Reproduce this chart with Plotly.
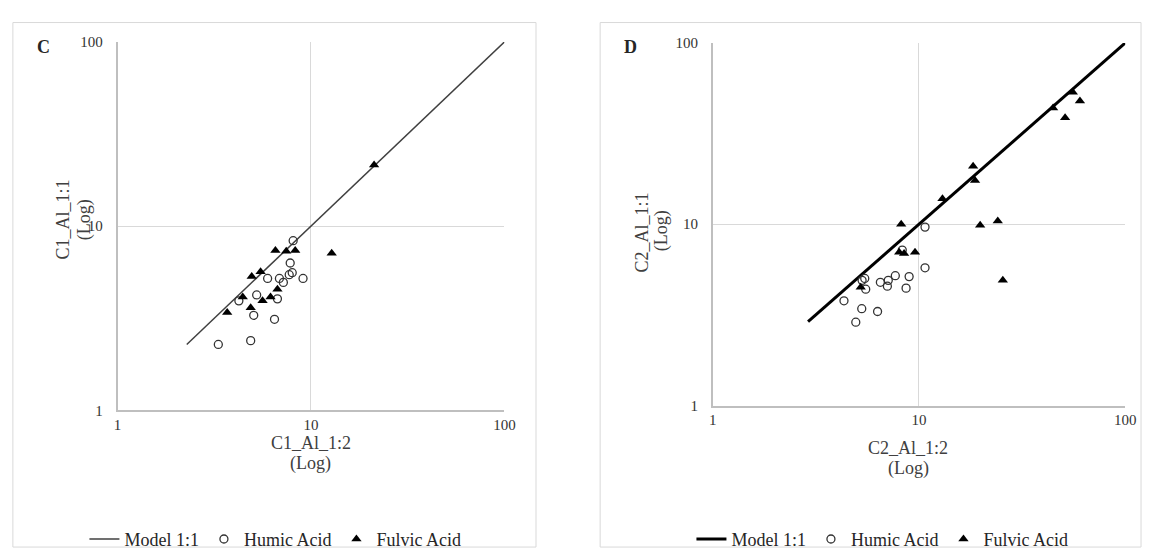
import plotly.graph_objects as go

# ---------------- data ----------------
model_c = [2.28, 100]
model_d = [2.9, 100]

c_humic_x = [8.09, 7.81, 8.0, 5.97, 6.87, 7.2, 9.1, 7.72, 5.24, 4.24, 6.71, 5.06, 6.48, 3.32, 4.88]
c_humic_y = [8.34, 6.31, 5.59, 5.2, 5.2, 4.95, 5.2, 5.45, 4.23, 3.93, 4.03, 3.28, 3.12, 2.28, 2.39]

c_fulvic_x = [6.55, 7.45, 8.29, 12.8, 4.94, 5.49, 6.71, 6.18, 5.62, 4.44, 4.88, 3.69, 21.2]
c_fulvic_y = [7.38, 7.3, 7.38, 7.12, 5.33, 5.66, 4.55, 4.13, 3.93, 4.13, 3.61, 3.40, 21.5]

d_humic_x = [10.7, 10.7, 8.3, 5.46, 5.52, 4.33, 5.28, 6.3, 4.94, 6.5, 7.03, 7.68, 7.1, 8.96, 8.66, 5.3]
d_humic_y = [9.64, 5.75, 7.2, 5.02, 4.38, 3.78, 3.42, 3.3, 2.88, 4.78, 4.55, 5.2, 4.9, 5.14, 4.44, 4.9]

d_fulvic_x = [8.2, 8.02, 8.47, 9.57, 5.22, 55.7, 60.3, 44.7, 51.1, 18.3, 18.7, 13.0, 19.8, 24.1, 25.5]
d_fulvic_y = [10.0, 7.0, 6.9, 7.0, 4.49, 53.4, 47.8, 43.8, 38.7, 20.9, 17.4, 13.8, 9.88, 10.4, 4.9]

tick_vals = [1, 10, 100]
tick_text = ["1", "10", "100"]

W, H = 1155, 558
FONT = "Liberation Serif"


def px_x(p):
    return p / W


def px_y(p):
    return 1 - p / H


fig = go.Figure()

# Panel C traces
fig.add_trace(go.Scatter(x=model_c, y=model_c, mode="lines", name="Model 1:1",
                         line=dict(color="#404040", width=1.5), xaxis="x", yaxis="y",
                         legend="legend"))
fig.add_trace(go.Scatter(x=c_humic_x, y=c_humic_y, mode="markers", name="Humic Acid",
                         marker=dict(symbol="circle-open", size=8, color="#333333",
                                     line=dict(width=1.3)),
                         xaxis="x", yaxis="y", legend="legend"))
fig.add_trace(go.Scatter(x=c_fulvic_x, y=c_fulvic_y, mode="markers", name="Fulvic Acid",
                         marker=dict(symbol="triangle-up", size=9, color="black"),
                         xaxis="x", yaxis="y", legend="legend"))

# Panel D traces
fig.add_trace(go.Scatter(x=model_d, y=model_d, mode="lines", name="Model 1:1",
                         line=dict(color="black", width=3), xaxis="x2", yaxis="y2",
                         legend="legend2"))
fig.add_trace(go.Scatter(x=d_humic_x, y=d_humic_y, mode="markers", name="Humic Acid",
                         marker=dict(symbol="circle-open", size=8, color="#333333",
                                     line=dict(width=1.3)),
                         xaxis="x2", yaxis="y2", legend="legend2"))
fig.add_trace(go.Scatter(x=d_fulvic_x, y=d_fulvic_y, mode="markers", name="Fulvic Acid",
                         marker=dict(symbol="triangle-up", size=9, color="black"),
                         xaxis="x2", yaxis="y2", legend="legend2"))

axis_common = dict(type="log", range=[0, 2], tickvals=tick_vals, ticktext=tick_text,
                   showgrid=True, gridcolor="#d9d9d9", gridwidth=1,
                   showline=True, linecolor="#bfbfbf", linewidth=1.5,
                   zeroline=False, ticks="", mirror=False,
                   tickfont=dict(family=FONT, size=15, color="#333333"))

legend_font = dict(family=FONT, size=18, color="#262626")

fig.update_layout(
    width=W, height=H,
    margin=dict(l=0, r=0, t=0, b=0),
    paper_bgcolor="white", plot_bgcolor="white",
    xaxis=dict(axis_common, domain=[px_x(115), px_x(507)], anchor="y"),
    yaxis=dict(axis_common, domain=[px_y(415), px_y(35)], anchor="x", ticklabelstandoff=10),
    xaxis2=dict(axis_common, domain=[px_x(718), px_x(1136)], anchor="y2"),
    yaxis2=dict(axis_common, domain=[px_y(410), px_y(36)], anchor="x2", ticklabelstandoff=10),
    legend=dict(orientation="h", x=px_x(275), y=px_y(548), xanchor="center", yanchor="middle",
                font=legend_font, itemwidth=30, bgcolor="rgba(0,0,0,0)"),
    legend2=dict(orientation="h", x=px_x(890), y=px_y(548), xanchor="center", yanchor="middle",
                 font=legend_font, itemwidth=30, bgcolor="rgba(0,0,0,0)"),
    showlegend=True,
)

# Panel borders
fig.add_shape(type="rect", xref="paper", yref="paper",
              x0=px_x(9), x1=px_x(539), y0=px_y(556), y1=px_y(15),
              line=dict(color="#d9d9d9", width=1))
fig.add_shape(type="rect", xref="paper", yref="paper",
              x0=px_x(604), x1=px_x(1152), y0=px_y(556), y1=px_y(15),
              line=dict(color="#d9d9d9", width=1))


def label(text, x, y, size, angle=0, color="#262626"):
    fig.add_annotation(text=text, xref="paper", yref="paper", x=px_x(x), y=px_y(y),
                       xanchor="center", yanchor="middle", showarrow=False,
                       textangle=angle, font=dict(family=FONT, size=size, color=color))


# Panel letters
label("<b>C</b>", 40, 40, 18)
label("<b>D</b>", 635, 40, 18)

# Axis titles
label("C1_Al_1:2", 311, 449, 18, color="#404040")
label("(Log)", 311, 470, 18, color="#404040")
label("C1_Al_1:1", 60, 218, 18, angle=-90, color="#404040")
label("(Log)", 81, 218, 18, angle=-90, color="#404040")
label("C2_Al_1:2", 916, 454, 18, color="#404040")
label("(Log)", 916, 475, 18, color="#404040")
label("C2_Al_1:1", 646, 232, 18, angle=-90, color="#404040")
label("(Log)", 667, 230, 18, angle=-90, color="#404040")

fig.write_html("out.html",
               config={"displayModeBar": False},
               post_script="document.body.style.margin='0';document.body.style.overflow='hidden';")
